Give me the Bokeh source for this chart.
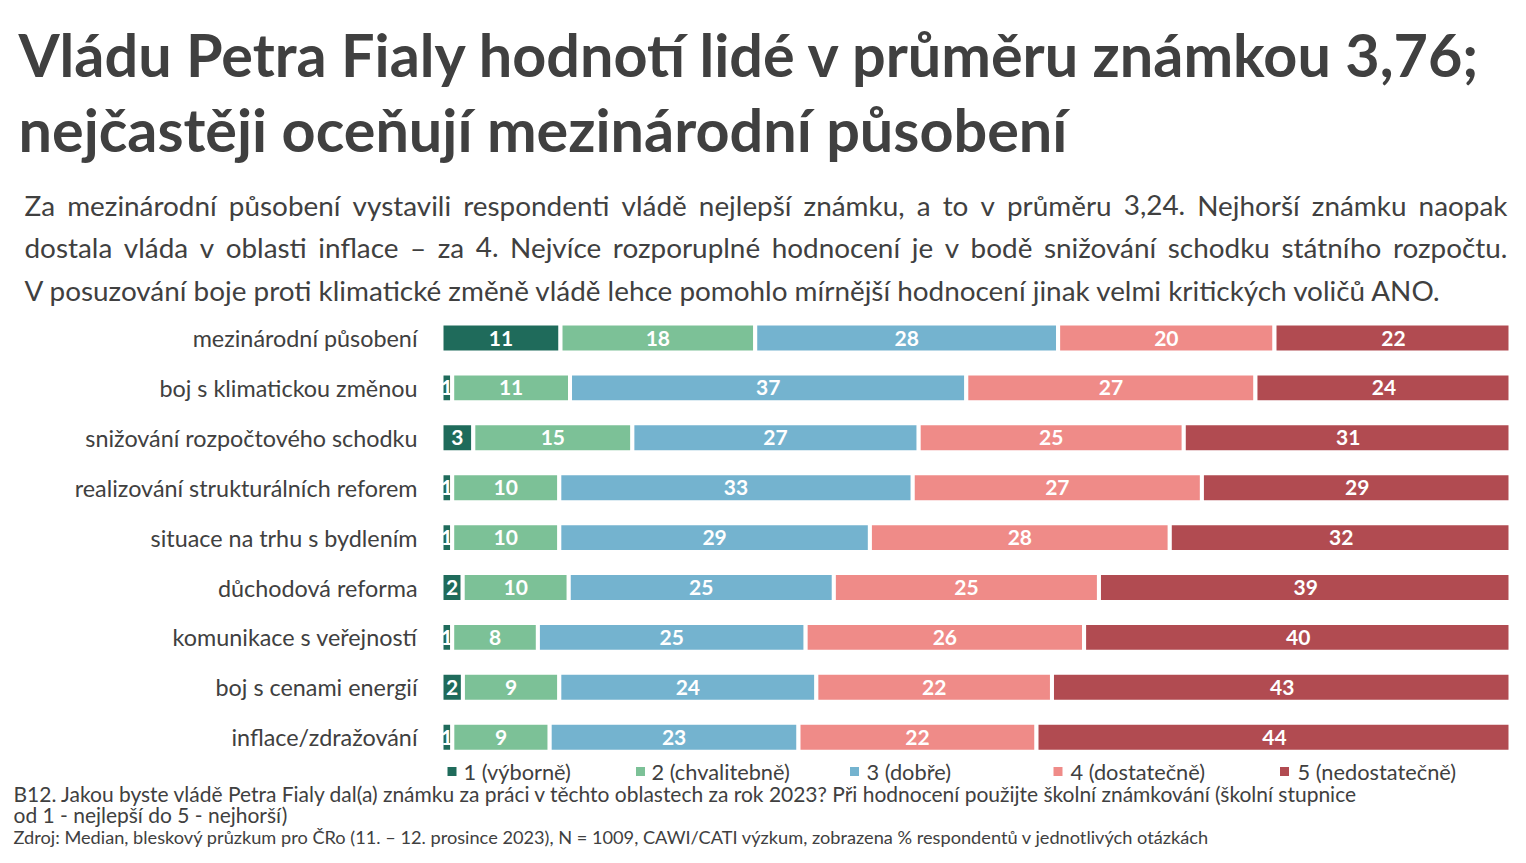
import os
import glob
from bokeh.plotting import figure
from bokeh.models import Range1d, ColumnDataSource
from bokeh.core.properties import value
from bokeh.embed import file_html
from bokeh.resources import INLINE

# ---------------- data ----------------
categories = [
    "mezinárodní působení",
    "boj s klimatickou změnou",
    "snižování rozpočtového schodku",
    "realizování strukturálních reforem",
    "situace na trhu s bydlením",
    "důchodová reforma",
    "komunikace s veřejností",
    "boj s cenami energií",
    "inflace/zdražování",
]
series_names = ["1 (výborně)", "2 (chvalitebně)", "3 (dobře)", "4 (dostatečně)", "5 (nedostatečně)"]
grade1 = [11, 1, 3, 1, 1, 2, 1, 2, 1]
grade2 = [18, 11, 15, 10, 10, 10, 8, 9, 9]
grade3 = [28, 37, 27, 33, 29, 25, 25, 24, 23]
grade4 = [20, 27, 25, 27, 28, 25, 26, 22, 22]
grade5 = [22, 24, 31, 29, 32, 39, 40, 43, 44]
series_colors = ["#1f6b5b", "#7cc197", "#74b3cf", "#ef8b88", "#b14b51"]

title_lines = [
    "Vládu Petra Fialy hodnotí lidé v průměru známkou 3,76;",
    "nejčastěji oceňují mezinárodní působení",
]
subtitle_lines = [
    "Za mezinárodní působení vystavili respondenti vládě nejlepší známku, a to v průměru 3,24. Nejhorší známku naopak",
    "dostala vláda v oblasti inflace – za 4. Nejvíce rozporuplné hodnocení je v bodě snižování schodku státního rozpočtu.",
    "V posuzování boje proti klimatické změně vládě lehce pomohlo mírnější hodnocení jinak velmi kritických voličů ANO.",
]
footnote_lines = [
    "B12. Jakou byste vládě Petra Fialy dal(a) známku za práci v těchto oblastech za rok 2023? Při hodnocení použijte školní známkování (školní stupnice",
    "od 1 - nejlepší do 5 - nejhorší)",
]
source_line = "Zdroj: Median, bleskový průzkum pro ČRo (11. – 12. prosince 2023), N = 1009, CAWI/CATI výzkum, zobrazena % respondentů v jednotlivých otázkách"

# ---------------- font measuring helpers ----------------
def _font_file(bold):
    name = "Lato-Bold.ttf" if bold else "Lato-Regular.ttf"
    for root in ["/usr/share/fonts", "/usr/local/share/fonts", os.path.expanduser("~/.fonts"),
                 os.path.expanduser("~/.local/share/fonts")]:
        hits = glob.glob(os.path.join(root, "**", name), recursive=True)
        if hits:
            return hits[0]
    return None

def _measure(text, size, bold=False):
    try:
        from PIL import ImageFont
        path = _font_file(bold)
        if path is None:
            return None
        f = ImageFont.truetype(path, 200)
        return f.getlength(text) * size / 200.0
    except Exception:
        return None

def fit_size(text, target, bold, fallback):
    w = _measure(text, 100, bold)
    if not w:
        return fallback
    return round(100 * target / w, 2)

# ---------------- figure ----------------
W, H = 1510, 847
BAR_L, BAR_R = 441, 1512          # pixel positions of 0 % and 100 %
ROW0, ROW_STEP = 337.5, 49.9      # pixel centre of first row, spacing
k = (BAR_R - BAR_L) / 100.0
xs = -BAR_L / k
xe = xs + W / k
ys_bottom = (H - ROW0) / ROW_STEP
ys_top = -ROW0 / ROW_STEP

p = figure(width=W, height=H, output_backend="svg", toolbar_location=None,
           x_range=Range1d(xs, xe), y_range=Range1d(ys_bottom, ys_top),
           x_axis_location=None, y_axis_location=None,
           min_border=0, min_border_left=0, min_border_right=0,
           min_border_top=0, min_border_bottom=0)
p.title = None
p.grid.visible = False
p.outline_line_color = None
p.background_fill_color = "white"
p.border_fill_color = "white"
p.extra_x_ranges = {"px": Range1d(0, W)}
p.extra_y_ranges = {"px": Range1d(H, 0)}

TXT = "#404040"
FONT = value("Lato")
MID = 0.34   # distance (in em) from the alphabetic baseline to the "middle" baseline

# ---------------- bars ----------------
rows = list(range(len(categories)))
series = [grade1, grade2, grade3, grade4, grade5]
totals = [sum(s[i] for s in series) for i in rows]
left = [0.0] * len(rows)
for vals, col in zip(series, series_colors):
    share = [vals[i] / totals[i] * 100 for i in rows]
    right = [left[i] + share[i] for i in rows]
    src = ColumnDataSource(dict(y=rows, left=list(left), right=right,
                                mid=[(left[i] + right[i]) / 2 for i in rows],
                                label=[str(v) for v in vals]))
    p.hbar(y="y", left="left", right="right", height=0.58, source=src,
           fill_color=col, line_color="white", line_width=4)
    p.text(x="mid", y="y", text="label", source=src, text_font=FONT,
           text_font_style="bold", text_font_size="21px", text_color="white",
           text_align="center", text_baseline="middle")
    left = right

# category labels
cat_size = fit_size(categories[0], 225, False, 23)
p.text(x=[417] * len(rows), y=rows, text=categories, x_range_name="px",
       text_font=FONT, text_font_size=f"{cat_size}px", text_color=TXT,
       text_align="right", text_baseline="middle")

# ---------------- free texts ----------------
def put(x, base, text, size, bold=False, align="left", color=TXT):
    """Place text whose alphabetic baseline sits at pixel row `base`."""
    p.text(x=[x], y=[base - MID * size], text=[text], x_range_name="px", y_range_name="px",
           text_font=FONT, text_font_size=f"{size}px",
           text_font_style="bold" if bold else "normal", text_color=color,
           text_align=align, text_baseline="middle")

# title
t_size = fit_size(title_lines[0], 1460, True, 57)
put(18, 74, title_lines[0], t_size, bold=True)
put(18, 149, title_lines[1], t_size, bold=True)

# subtitle (first two lines justified)
s_size = fit_size(subtitle_lines[2], 1416, False, 25)
sub_base = [214, 256, 299]
SUB_L, SUB_R = 24, 1507
for li, line in enumerate(subtitle_lines):
    words = line.split(" ")
    justified = False
    if li < 2:
        widths = [_measure(w, s_size) for w in words]
        if all(w is not None for w in widths):
            gap = (SUB_R - SUB_L - sum(widths)) / (len(words) - 1)
            x = SUB_L
            for w, wd in zip(words, widths):
                put(x, sub_base[li], w, s_size)
                x += wd + gap
            justified = True
    if not justified:
        put(SUB_L, sub_base[li], line, s_size)

# legend
leg_size = fit_size(series_names[0], 108, False, 21)
leg_sq = [451.5, 640, 854, 1057.5, 1284]
leg_tx = [463, 651, 866, 1070, 1297]
LEG_Y = 771
p.scatter(x=leg_sq, y=[LEG_Y] * 5, marker="square", size=9, fill_color=series_colors,
          line_color=None, x_range_name="px", y_range_name="px")
p.text(x=leg_tx, y=[LEG_Y] * 5, text=series_names, x_range_name="px", y_range_name="px",
       text_font=FONT, text_font_size=f"{leg_size}px", text_color=TXT,
       text_align="left", text_baseline="middle")

# footnotes
f_size = fit_size(footnote_lines[1], 274, False, 20)
put(13, 800, footnote_lines[0], f_size)
put(13, 821, footnote_lines[1], f_size)
z_size = fit_size(source_line, 1195, False, 18)
put(13, 843, source_line, z_size)

open("out.html", "w").write(file_html(p, INLINE))
